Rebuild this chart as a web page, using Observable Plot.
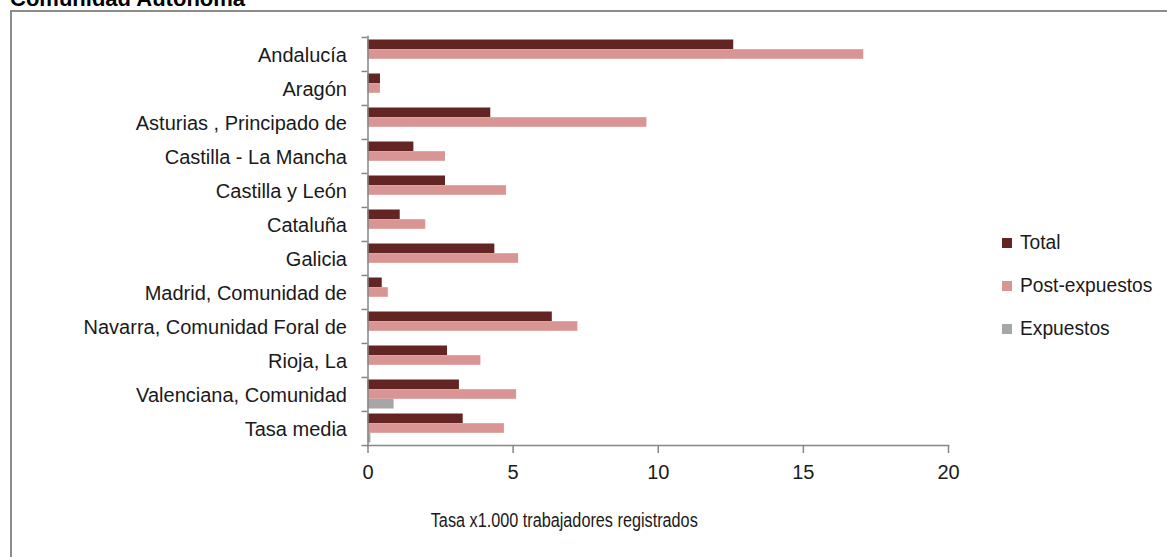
<!DOCTYPE html>
<html>
<head>
<meta charset="utf-8">
<script src="https://cdn.jsdelivr.net/npm/d3@7"></script>
<script src="https://cdn.jsdelivr.net/npm/@observablehq/plot@0.6"></script>
<style>
  html, body { margin: 0; padding: 0; background: #fff; overflow: hidden; }
  body { width: 1167px; height: 557px; position: relative; font-family: "Liberation Sans Narrow", "Arial Narrow", "Liberation Sans", sans-serif; }
  #title { position: absolute; left: 10px; top: -14px; font: bold 22px "Liberation Sans", Arial, sans-serif; color: #000; white-space: nowrap; }
  #box { position: absolute; left: 10px; top: 10px; width: 1200px; height: 600px; border: 2px solid #8c8c8c; box-sizing: border-box; }
  #chart { position: absolute; left: 0; top: 0; }
  #legend { position: absolute; left: 1002px; top: 221px; font-size: 20px; color: #1a1a1a; }
  .item { display: flex; align-items: center; height: 43px; }
  .sw { width: 10px; height: 10px; margin-right: 8px; }
  .item span { display: inline-block; transform: scaleX(0.96); transform-origin: left center; }
</style>
</head>
<body>
<div id="title">Comunidad Autónoma</div>
<div id="box"></div>
<div id="chart"></div>
<div id="legend"></div>
<script>
const categories = ["Andalucía", "Aragón", "Asturias , Principado de", "Castilla - La Mancha", "Castilla y León", "Cataluña", "Galicia", "Madrid, Comunidad de", "Navarra, Comunidad Foral de", "Rioja, La", "Valenciana, Comunidad", "Tasa media"];
const series = ["Total", "Post-expuestos", "Expuestos"];
const totalValues = [12.60, 0.43, 4.23, 1.58, 2.67, 1.11, 4.37, 0.49, 6.35, 2.74, 3.15, 3.28];
const postValues  = [17.08, 0.43, 9.61, 2.67, 4.77, 1.99, 5.19, 0.70, 7.23, 3.89, 5.12, 4.70];
const expValues   = [0, 0, 0, 0, 0, 0, 0, 0, 0, 0, 0.90, 0.10];
const colors = ["#632523", "#d99594", "#a6a6a6"];
const xTicks = [0, 5, 10, 15, 20];
const xLabel = "Tasa x1.000 trabajadores registrados";

const W = 1167, H = 557;
const mTop = 36, mBottom = 112, mLeft = 367.5, mRight = 219;
const bw = (H - mTop - mBottom) / categories.length;
const barH = 9.7, start = 2.5;

const rows = (vals) => categories.map((c, i) => ({cat: c, v: vals[i]}));
const seriesData = [totalValues, postValues, expValues];

const barMarks = seriesData.map((vals, k) => {
  const top = start + k * barH;
  return Plot.barX(rows(vals), {
    x: "v", y: "cat", fill: colors[k],
    insetTop: top, insetBottom: bw - top - barH
  });
});

const font = '"Liberation Sans Narrow", "Arial Narrow", "Liberation Sans", sans-serif';

const chart = Plot.plot({
  width: W, height: H,
  marginTop: mTop, marginBottom: mBottom, marginLeft: mLeft, marginRight: mRight,
  style: {fontFamily: font, fontSize: "20px", color: "#1a1a1a", background: "transparent", overflow: "visible"},
  x: {domain: [0, 20], ticks: xTicks, label: null},
  y: {domain: categories, padding: 0, label: null},
  marks: [
    ...barMarks,
    Plot.axisY({tickSize: 0, tickPadding: 21, fontSize: 20, dy: 1, label: null}),
    Plot.axisY({text: null, tickSize: 6, dy: -bw / 2, stroke: "#868686", strokeWidth: 1.5, label: null}),
    Plot.axisY(categories.slice(-1), {text: null, tickSize: 6, dy: bw / 2, stroke: "#868686", strokeWidth: 1.5, label: null}),
    Plot.axisX(xTicks, {tickSize: 8, tickPadding: 11, stroke: "#868686", strokeWidth: 1.5, fontSize: 20, label: null, tickFormat: d => String(d)}),
    Plot.frame({anchor: "bottom", stroke: "#868686", strokeWidth: 1.5}),
    Plot.frame({anchor: "left", stroke: "#868686", strokeWidth: 1.5}),
    Plot.text([xLabel], {text: d => d, frameAnchor: "bottom", dx: -94, dy: 81, fontSize: 20, fill: "#1a1a1a", className: "xlabel"})
  ]
});
document.getElementById("chart").appendChild(chart);

// condense axis title to the reference's width
d3.select(chart).selectAll(".xlabel text")
  .attr("textLength", 267)
  .attr("lengthAdjust", "spacingAndGlyphs");

const legend = document.getElementById("legend");
series.forEach((s, k) => {
  const item = document.createElement("div");
  item.className = "item";
  const sw = document.createElement("div");
  sw.className = "sw";
  sw.style.background = colors[k];
  const t = document.createElement("span");
  t.textContent = s;
  item.appendChild(sw); item.appendChild(t);
  legend.appendChild(item);
});
</script>
</body>
</html>
